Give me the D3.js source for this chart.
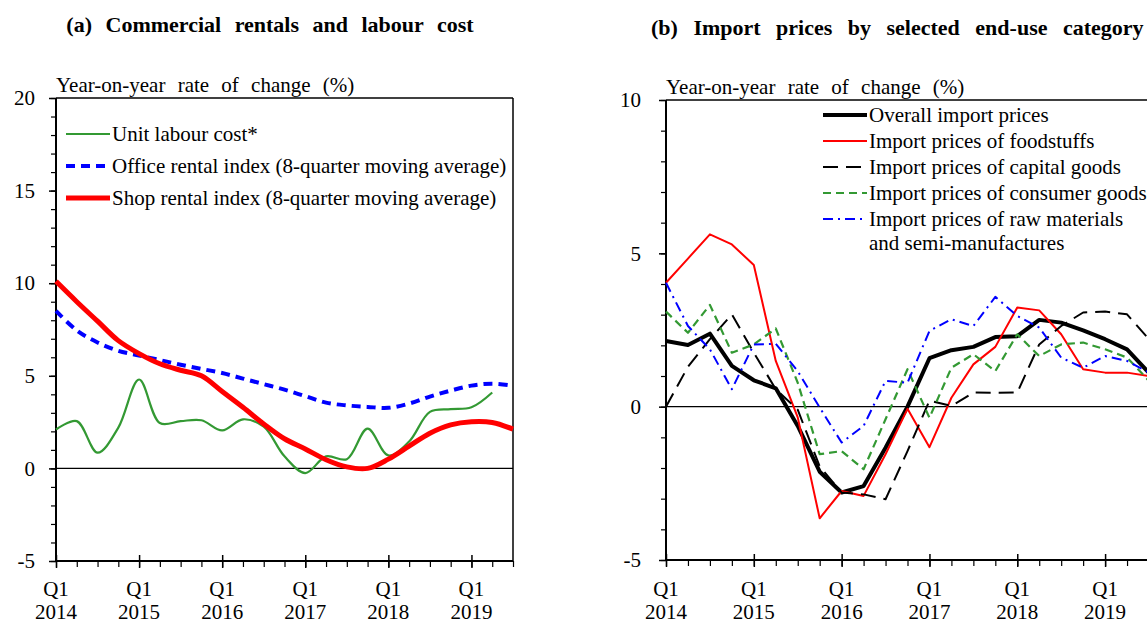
<!DOCTYPE html>
<html>
<head>
<meta charset="utf-8">
<script src="https://cdn.jsdelivr.net/npm/d3@7"></script>
<style>
  body { margin: 0; background: #fff; }
  svg { display: block; font-family: "Liberation Serif", "Times New Roman", serif; }
</style>
</head>
<body>
<svg id="chart" width="1147" height="625"></svg>
<script>
// Quarterly data, Q1 2014 to Q3 2019
const quarters = ["2014Q1","2014Q2","2014Q3","2014Q4","2015Q1","2015Q2","2015Q3","2015Q4",
  "2016Q1","2016Q2","2016Q3","2016Q4","2017Q1","2017Q2","2017Q3","2017Q4",
  "2018Q1","2018Q2","2018Q3","2018Q4","2019Q1","2019Q2","2019Q3"];
const yearLabels = ["2014","2015","2016","2017","2018","2019"];

// Panel (a): commercial rentals and labour cost (% yoy)
const unitLabourCost = [2.1, 2.55, 0.85, 2.2, 4.8, 2.45, 2.55, 2.6, 2.05, 2.65, 2.25, 0.65,
  -0.25, 0.65, 0.5, 2.15, 0.7, 1.45, 3.05, 3.2, 3.3, 4.1];
const officeRental = [8.5, 7.45, 6.8, 6.35, 6.1, 5.85, 5.6, 5.37, 5.15, 4.85, 4.55, 4.25,
  3.9, 3.55, 3.4, 3.32, 3.27, 3.5, 3.88, 4.2, 4.47, 4.57, 4.46];
const shopRental = [10.1, 9.0, 7.95, 6.9, 6.2, 5.65, 5.3, 5.0, 4.15, 3.3, 2.4, 1.6,
  1.05, 0.47, 0.08, 0.0, 0.5, 1.2, 1.9, 2.35, 2.52, 2.48, 2.12];
const leftTicks = [-5, 0, 5, 10, 15, 20];

// Panel (b): import prices by end-use category (% yoy)
const overallImport = [2.14, 2.01, 2.38, 1.33, 0.86, 0.6, -0.63, -2.12, -2.8, -2.59, -1.34, 0.0,
  1.58, 1.84, 1.95, 2.27, 2.3, 2.83, 2.74, 2.49, 2.2, 1.87, 1.1];
const foodstuffs = [4.04, 4.83, 5.62, 5.29, 4.62, 1.49, -0.35, -3.64, -2.75, -2.91, -1.55, -0.07,
  -1.32, 0.29, 1.38, 1.95, 3.23, 3.14, 2.36, 1.22, 1.11, 1.11, 1.0];
const capitalGoods = [0.0, 1.3, 2.2, 3.01, 1.76, 0.57, -0.1, -1.95, -2.8, -2.86, -3.02, -1.45,
  0.2, 0.02, 0.46, 0.45, 0.46, 2.03, 2.63, 3.07, 3.1, 3.01, 2.2];
const consumerGoods = [3.1, 2.41, 3.32, 1.76, 2.03, 2.55, 0.78, -1.55, -1.45, -2.04, -0.41, 1.22,
  -0.36, 1.27, 1.71, 1.16, 2.36, 1.65, 2.03, 2.09, 1.87, 1.6, 0.84];
const rawMaterials = [4.04, 2.63, 1.87, 0.57, 2.03, 2.05, 1.16, -0.03, -1.17, -0.63, 0.84, 0.78,
  2.47, 2.85, 2.63, 3.58, 2.96, 2.58, 1.6, 1.27, 1.65, 1.49, 1.11];
const rightTicks = [-5, 0, 5, 10];

const svg = d3.select("#chart");
svg.append("rect").attr("width", 1147).attr("height", 625).attr("fill", "#fff");

const SERIF = "Liberation Serif, Times New Roman, serif";
const FS_LEGEND = 21, FS_TICK = 21, FS_XTICK = 21, FS_TITLE = 22;

function drawPanel(cfg) {
  const g = svg.append("g");
  const x = d3.scaleLinear().domain([0, quarters.length - 1]).range([cfg.x0, cfg.x1]);
  const y = d3.scaleLinear().domain(cfg.yDomain).range([cfg.yBottom, cfg.yTop]);

  // frame (top and right edges)
  g.append("line").attr("x1", cfg.x0).attr("x2", Math.min(cfg.x1, 1147)).attr("y1", cfg.yTop).attr("y2", cfg.yTop)
    .attr("stroke", "#000").attr("stroke-width", 1.5);
  if (cfg.rightEdge) {
    g.append("line").attr("x1", cfg.x1).attr("x2", cfg.x1).attr("y1", cfg.yTop).attr("y2", cfg.yBottom)
      .attr("stroke", "#000").attr("stroke-width", 1.5);
  }
  // zero line
  g.append("line").attr("x1", cfg.x0).attr("x2", cfg.x1).attr("y1", y(0)).attr("y2", y(0))
    .attr("stroke", "#000").attr("stroke-width", 1.2);

  // y axis: minor ticks every 1 unit, labelled majors every 5
  const minorY = d3.range(cfg.yDomain[0], cfg.yDomain[1] + 1, 1);
  g.append("g").attr("transform", `translate(${cfg.x0},0)`)
    .call(d3.axisLeft(y).tickValues(minorY).tickSize(5).tickFormat(""))
    .call(a => a.select(".domain").remove())
    .selectAll("line").attr("stroke-width", 1.2);
  const yAx = g.append("g").attr("transform", `translate(${cfg.x0},0)`)
    .call(d3.axisLeft(y).tickValues(cfg.ticks).tickSize(7).tickPadding(cfg.tickPad).tickFormat(d => String(d)));
  yAx.attr("font-family", SERIF).attr("font-size", FS_TICK);
  yAx.select(".domain").attr("d", `M0,${cfg.yTop}V${cfg.yBottom}`).attr("stroke-width", 2);
  yAx.selectAll("line").attr("stroke-width", 1.5);
  yAx.selectAll("text").attr("fill", "#000");

  // x axis: minor ticks each quarter, crossing majors at Q1
  const xAx = g.append("g").attr("transform", `translate(0,${cfg.yBottom})`)
    .call(d3.axisBottom(x).tickValues(d3.range(quarters.length)).tickSize(6).tickFormat(""));
  xAx.select(".domain").attr("d", `M${cfg.x0},0H${cfg.x1}`).attr("stroke-width", 2);
  xAx.selectAll("line").attr("stroke-width", 1.2);
  const majors = quarters.map((q, i) => i).filter(i => quarters[i].endsWith("Q1"));
  const xMaj = g.append("g").attr("transform", `translate(0,${cfg.yBottom})`)
    .call(d3.axisBottom(x).tickValues(majors).tickSize(7).tickFormat(""));
  xMaj.select(".domain").remove();
  xMaj.selectAll("line").attr("y1", -6).attr("stroke-width", 1.5);
  majors.forEach((i, k) => {
    const t = g.append("text").attr("x", x(i)).attr("text-anchor", "middle")
      .attr("font-size", FS_XTICK).attr("fill", "#000");
    t.append("tspan").attr("x", x(i)).attr("y", 596).text("Q1");
    t.append("tspan").attr("x", x(i)).attr("y", 619).text(yearLabels[k]);
  });

  // axis caption and title
  g.append("text").attr("x", cfg.x0).attr("y", cfg.yTop - 6).attr("font-size", FS_LEGEND)
    .attr("word-spacing", 7).text("Year-on-year rate of change (%)");
  g.append("text").attr("x", cfg.titleX).attr("y", cfg.titleY).attr("text-anchor", cfg.titleAnchor)
    .attr("font-size", FS_TITLE).attr("font-weight", "bold").attr("word-spacing", cfg.titleSpacing).text(cfg.title);

  // series
  const plot = g.append("g");
  cfg.series.forEach(s => {
    const line = d3.line().x((d, i) => x(i)).y(d => y(d)).curve(cfg.curve);
    plot.append("path").datum(s.values).attr("d", line)
      .attr("fill", "none").attr("stroke", s.color).attr("stroke-width", s.width)
      .attr("stroke-dasharray", s.dash || null).attr("stroke-linejoin", "round");
  });

  // legend
  cfg.series.forEach((s, k) => {
    const ly = cfg.legendY[k];
    g.append("line").attr("x1", cfg.legendX).attr("x2", cfg.legendX + 44).attr("y1", ly).attr("y2", ly)
      .attr("stroke", s.color).attr("stroke-width", s.width).attr("stroke-dasharray", s.dash || null);
    const t = g.append("text").attr("x", cfg.legendX + 46).attr("y", ly + 7).attr("font-size", FS_LEGEND);
    s.label.forEach((part, j) => {
      t.append("tspan").attr("x", cfg.legendX + 46).attr("y", ly + 7 + j * 24).text(part);
    });
  });
}

drawPanel({
  x0: 56, x1: 513, yTop: 98, yBottom: 561, yDomain: [-5, 20], ticks: leftTicks, tickPad: 14,
  rightEdge: true, curve: d3.curveCatmullRom.alpha(0.5),
  title: "(a) Commercial rentals and labour cost", titleX: 270, titleY: 32, titleAnchor: "middle", titleSpacing: 8,
  legendX: 66, legendY: [134, 166, 198],
  series: [
    { values: unitLabourCost, color: "#339933", width: 2.2, label: ["Unit labour cost*"] },
    { values: officeRental, color: "#0000ff", width: 4, dash: "9,6", label: ["Office rental index (8-quarter moving average)"] },
    { values: shopRental, color: "#ff0000", width: 5, label: ["Shop rental index (8-quarter moving average)"] }
  ]
});

drawPanel({
  x0: 666, x1: 1149, yTop: 100, yBottom: 560, yDomain: [-5, 10], ticks: rightTicks, tickPad: 18,
  rightEdge: false, curve: d3.curveLinear,
  title: "(b) Import prices by selected end-use category", titleX: 651, titleY: 35, titleAnchor: "start", titleSpacing: 10,
  legendX: 823, legendY: [115, 141, 167, 193, 219],
  series: [
    { values: overallImport, color: "#000", width: 4, label: ["Overall import prices"] },
    { values: foodstuffs, color: "#ff0000", width: 2, label: ["Import prices of foodstuffs"] },
    { values: capitalGoods, color: "#000", width: 2, dash: "15,8", label: ["Import prices of capital goods"] },
    { values: consumerGoods, color: "#339933", width: 2.2, dash: "8,5", label: ["Import prices of consumer goods"] },
    { values: rawMaterials, color: "#0000ff", width: 2, dash: "10,5,2,5", label: ["Import prices of raw materials", "and semi-manufactures"] }
  ]
});
</script>
</body>
</html>
